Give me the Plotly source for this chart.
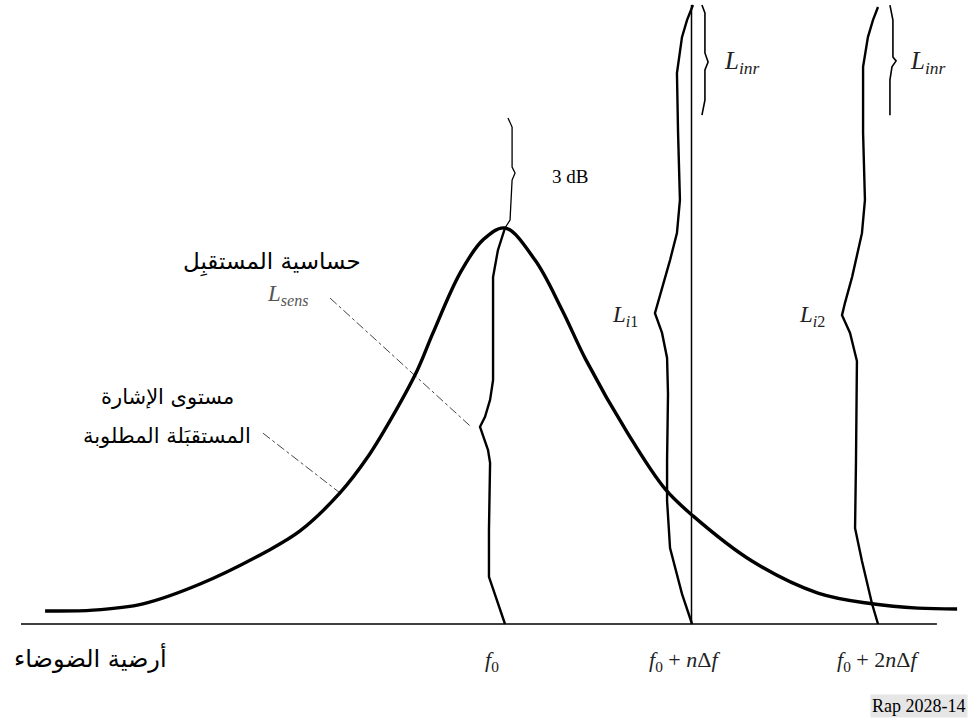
import plotly.graph_objects as go

# Frequency axis in units of n*delta_f relative to f0; level axis: noise floor = 0, peak = 100
# Desired received signal level (bell-shaped curve)
signal_f = [-2.466, -2.209, -1.941, -1.635, -1.276, -1.099, -0.885, -0.740, -0.617, -0.472,
            -0.386, -0.241, -0.118, 0.0, 0.161, 0.306, 0.434, 0.660, 0.858, 1.008,
            1.324, 1.678, 1.968, 2.214, 2.424]
signal_lvl = [3.3, 3.5, 5.1, 10.1, 18.4, 23.5, 33.1, 41.9, 51.3, 63.9,
              73.5, 88.6, 97.0, 100.0, 91.9, 79.3, 66.7, 48.0, 34.1, 27.3,
              15.9, 7.8, 5.1, 4.0, 3.8]

# Brace L_sens (noise floor -> peak at f0)
sens_f = [0.0, -0.070, -0.086, -0.086, -0.080, -0.091, -0.123, -0.134, -0.107, -0.080,
          -0.064, -0.064, -0.064, -0.038, -0.011, 0.0]
sens_lvl = [0.0, 9.3, 11.9, 23.7, 40.7, 43.9, 48.2, 49.8, 52.3, 56.6,
            61.6, 67.2, 87.6, 94.4, 98.7, 100.0]

# Brace 3 dB (above the peak)
db3_f = [0.016, 0.038, 0.038, 0.054, 0.038, 0.027, 0.0]
db3_lvl = [127.8, 125.5, 115.4, 113.9, 112.1, 102.0, 100.0]

# Brace L_i1 (interferer at f0 + n*delta_f)
i1_f = [1.003, 0.949, 0.885, 0.869, 0.869, 0.874, 0.869, 0.842, 0.804, 0.820,
        0.842, 0.885, 0.922, 0.938, 0.928, 0.922, 0.949, 0.976, 1.008]
i1_lvl = [0.0, 7.6, 19.2, 31.1, 41.2, 58.1, 67.2, 73.5, 78.5, 81.1,
          84.3, 91.9, 98.7, 107.1, 124.0, 139.1, 148.2, 152.5, 156.3]

# Brace L_i2 (interferer at f0 + 2n*delta_f)
i2_f = [2.0, 1.968, 1.914, 1.877, 1.882, 1.887, 1.887, 1.850, 1.807, 1.823,
        1.861, 1.914, 1.930, 1.920, 1.920, 1.946, 1.973, 2.0]
i2_lvl = [0.0, 5.1, 15.9, 24.2, 41.2, 58.1, 66.4, 73.5, 78.0, 81.1,
          87.6, 98.7, 107.1, 124.0, 140.7, 148.2, 152.5, 155.8]

# Braces L_inr
inr1_f = [1.056, 1.072, 1.072, 1.089, 1.072, 1.072, 1.056]
inr1_lvl = [156.3, 154.3, 144.2, 141.9, 139.9, 132.3, 128.5]
inr2_f = [2.064, 2.080, 2.080, 2.097, 2.075, 2.064, 2.064]
inr2_lvl = [156.3, 152.5, 143.2, 142.2, 140.7, 137.4, 128.5]

# Vertical marker at f0 + n*delta_f
vline_f = [1.0, 1.0]
vline_lvl = [0.0, 156.3]

# Baseline (noise floor axis)
base_f = [-2.595, 2.316]
base_lvl = [0.0, 0.0]

# Leader lines
lead_sens_f = [-0.938, -0.182]
lead_sens_lvl = [82.3, 49.8]
lead_sig_f = [-1.298, -0.885]
lead_sig_lvl = [48.2, 33.1]

tick_pos = [0.0, 1.0, 2.0]
tick_text = ["<i>f</i><sub>0</sub>", "<i>f</i><sub>0</sub> + <i>n</i>Δ<i>f</i>",
             "<i>f</i><sub>0</sub> + 2<i>n</i>Δ<i>f</i>"]

fig = go.Figure()

def add_line(x, y, width, color="black", dash="solid", shape="linear"):
    fig.add_trace(go.Scatter(x=x, y=y, mode="lines",
                             line=dict(color=color, width=width, dash=dash, shape=shape),
                             hoverinfo="skip", showlegend=False))

add_line(base_f, base_lvl, 1.5)
add_line(vline_f, vline_lvl, 1.5)
add_line(lead_sens_f, lead_sens_lvl, 1, color="#444444", dash="dashdot")
add_line(lead_sig_f, lead_sig_lvl, 1, color="#444444", dash="dashdot")
add_line(sens_f, sens_lvl, 2.4)
add_line(db3_f, db3_lvl, 1.3)
add_line(i1_f, i1_lvl, 2.4)
add_line(i2_f, i2_lvl, 2.4)
add_line(inr1_f, inr1_lvl, 1.6)
add_line(inr2_f, inr2_lvl, 1.6)
add_line(signal_f, signal_lvl, 3.4, shape="spline")

serif = "Liberation Serif"
arabic = "DejaVu Sans"

ann = []
def text(x, y, t, size, family, color="black", xanchor="center", **kw):
    ann.append(dict(x=x, y=y, xref="x", yref="y", text=t, showarrow=False,
                    font=dict(size=size, family=family, color=color),
                    xanchor=xanchor, yanchor="middle", **kw))

text(-1.249, 91.4, "حساسية المستقبِل", 23, arabic)
text(-1.164, 83.1, "<i>L</i><sub><i>sens</i></sub>", 23, serif, color="#555555")
text(-1.812, 57.3, "مستوى الإشارة", 21, arabic)
text(-1.812, 47.5, "المستقبَلة المطلوبة", 21, arabic)
text(-2.225, -8.6, "أرضية الضوضاء", 24, arabic)
for p, t, dx in zip(tick_pos, tick_text, [-0.07, -0.04, 0.0]):
    text(p + dx, -9.3, t, 22, serif, color="#222222")
text(0.643, 77.8, "<i>L</i><sub><i>i</i>1</sub>", 23, serif, color="#222222")
text(1.646, 77.8, "<i>L</i><sub><i>i</i>2</sub>", 23, serif, color="#222222")
text(1.271, 141.9, "<i>L</i><sub><i>inr</i></sub>", 25, serif, color="#222222")
text(2.268, 141.9, "<i>L</i><sub><i>inr</i></sub>", 25, serif, color="#222222")
text(0.349, 113.1, "3 dB", 19, serif)
text(2.483, -20.7, "Rap 2028-14", 18, serif, xanchor="right", bgcolor="#e6e6e6")

fig.update_layout(
    width=971, height=722, autosize=False,
    margin=dict(l=0, r=0, t=0, b=0, pad=0),
    paper_bgcolor="white", plot_bgcolor="white",
    xaxis=dict(range=[-505 / 186.5, 466 / 186.5], visible=False, fixedrange=True),
    yaxis=dict(range=[-98 / 3.96, 624 / 3.96], visible=False, fixedrange=True),
    annotations=ann,
    showlegend=False,
)

fig.write_html("out.html", post_script="document.body.style.margin='0';",
               config={"displayModeBar": False})
